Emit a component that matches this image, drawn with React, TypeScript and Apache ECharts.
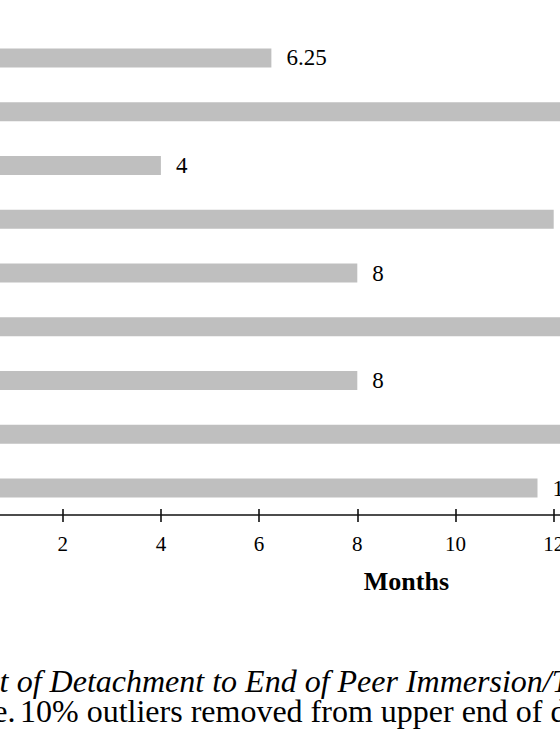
import React, { useEffect, useRef } from "react";
import * as echarts from "echarts";

// Categories (their labels lie outside the visible crop, to the left)
const categories = [
  "Group 1",
  "Group 2",
  "Group 3",
  "Group 4",
  "Group 5",
  "Group 6",
  "Group 7",
  "Group 8",
  "Group 9",
];

// Months from point of detachment to end of peer immersion/treatment
const monthValues = [6.25, 14.5, 4, 12, 8, 15, 8, 13.5, 11.67];

// Value-axis ticks
const xTicks = [0, 2, 4, 6, 8, 10, 12, 14, 16, 18];

const axisTitle = "Months";
const captionLine1Lead = "Figure 3. Time from Point";
const captionLine1 = "of Detachment to End of Peer Immersion/Treatment";
const captionLine2Lead = "Note.";
const captionLine2 = "10% outliers removed from upper end of data.";

const SERIF = "'Liberation Serif', 'Times New Roman', Times, serif";

// The visible picture is a crop of a wider figure: the chart canvas is
// shifted left by SHIFT pixels inside a clipping frame.
const SHIFT = 200;
const CANVAS_W = 1200;

export default function App() {
  const ref = useRef<HTMLDivElement | null>(null);

  useEffect(() => {
    if (!ref.current) return;
    const chart = echarts.init(ref.current, undefined, { renderer: "svg" });
    const xMin = xTicks[0];
    const xMax = xTicks[xTicks.length - 1];
    const xInterval = xTicks[1] - xTicks[0];
    const pxPerUnit = 49.1;

    const captionStyle = (text: string, italic: boolean, align: string) => ({
      text,
      font: `${italic ? "italic " : ""}32px ${SERIF}`,
      fill: "#000",
      align,
      verticalAlign: "middle",
      lineHeight: 26,
    });

    chart.setOption({
      animation: false,
      backgroundColor: "#ffffff",
      grid: {
        left: SHIFT - 35.5,
        top: 31,
        height: 484,
        width: (xMax - xMin) * pxPerUnit,
        containLabel: false,
      },
      xAxis: [
        {
          type: "value",
          position: "bottom",
          min: xMin,
          max: xMax,
          interval: xInterval,
          name: axisTitle,
          nameLocation: "middle",
          nameGap: 53,
          nameTextStyle: {
            fontFamily: SERIF,
            fontSize: 26,
            fontWeight: "bold",
            color: "#000",
          },
          axisLine: { show: true, lineStyle: { color: "#111", width: 1.6 } },
          axisTick: {
            show: true,
            inside: false,
            length: 7,
            lineStyle: { color: "#111", width: 1.6 },
          },
          axisLabel: {
            show: true,
            margin: 18,
            fontFamily: SERIF,
            fontSize: 21,
            color: "#000",
          },
          splitLine: { show: false },
        },
        {
          type: "value",
          position: "bottom",
          min: xMin,
          max: xMax,
          interval: xInterval,
          axisLine: { show: false },
          axisTick: {
            show: true,
            inside: true,
            length: 6,
            lineStyle: { color: "#111", width: 1.6 },
          },
          axisLabel: { show: false },
          splitLine: { show: false },
        },
      ],
      yAxis: {
        type: "category",
        data: categories,
        inverse: true,
        axisLine: { show: false },
        axisTick: { show: false },
        axisLabel: { show: false },
        splitLine: { show: false },
      },
      series: [
        {
          type: "bar",
          xAxisIndex: 0,
          data: monthValues,
          barWidth: 19,
          itemStyle: { color: "#bfbfbf" },
          label: {
            show: true,
            position: "right",
            distance: 15,
            fontFamily: SERIF,
            fontSize: 23,
            color: "#000",
          },
        },
      ],
      graphic: [
        {
          type: "text",
          x: SHIFT + 8.5,
          y: 681,
          style: captionStyle(captionLine1Lead, true, "right"),
        },
        {
          type: "text",
          x: SHIFT + 16.7,
          y: 681,
          style: captionStyle(captionLine1, true, "left"),
        },
        {
          type: "text",
          x: SHIFT + 15.5,
          y: 711,
          style: captionStyle(captionLine2Lead, false, "right"),
        },
        {
          type: "text",
          x: SHIFT + 20,
          y: 711,
          style: captionStyle(captionLine2, false, "left"),
        },
      ],
    });

    return () => {
      chart.dispose();
    };
  }, []);

  return (
    <div
      style={{
        position: "fixed",
        left: 0,
        top: 0,
        width: 560,
        height: 747,
        overflow: "hidden",
        background: "#fff",
      }}
    >
      <div
        ref={ref}
        style={{
          position: "absolute",
          left: -SHIFT,
          top: 0,
          width: CANVAS_W,
          height: 747,
        }}
      />
    </div>
  );
}
